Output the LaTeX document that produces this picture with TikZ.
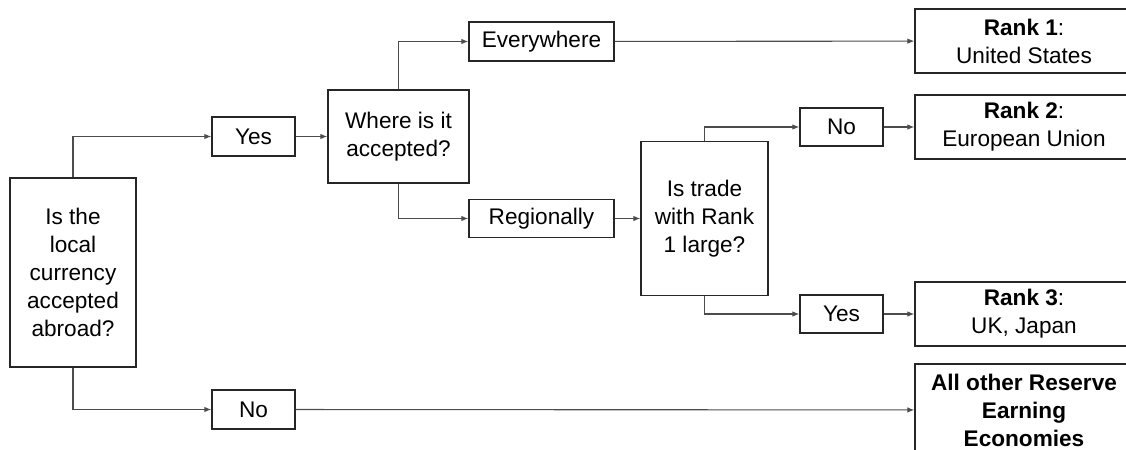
\documentclass[tikz,border=0pt]{standalone}
\usepackage{fontspec}
\setmainfont{Liberation Sans}
\usetikzlibrary{arrows.meta}

\begin{document}
\begin{tikzpicture}[x=0.5pt,y=-0.5pt,
  box/.style={draw=black!85,line width=0.7pt,fill=white,align=center,inner sep=0pt,
    font=\fontsize{11.3}{14}\selectfont},
  link/.style={draw=black!70,line width=0.55pt,-{Latex[length=3.5pt,width=2.8pt]}}]
\useasboundingbox (0,0) rectangle (1126,450);
\clip (0,0) rectangle (1126,450);

\node[box,minimum width=63pt,minimum height=94.5pt] (accepted) at (73,272.5)
  {Is the\\local\\currency\\accepted\\abroad?};
\node[box,minimum width=41.5pt,minimum height=19.5pt] (yes1) at (253.5,136.5) {Yes};
\node[box,minimum width=41.5pt,minimum height=19.5pt] (no1) at (253.5,409.5) {No};
\node[box,minimum width=70.5pt,minimum height=46.5pt] (where) at (398.5,136.5)
  {Where is it\\accepted?};
\node[box,minimum width=72.5pt,minimum height=19.5pt] (every) at (541.5,41.5) {Everywhere};
\node[box,minimum width=72.5pt,minimum height=19pt] (region) at (541.5,218.5) {Regionally};
\node[box,minimum width=63.5pt,minimum height=77pt] (trade) at (704.5,218.5)
  {Is trade\\with Rank\\1 large?};
\node[box,minimum width=41.5pt,minimum height=19pt] (no2) at (841.5,127) {No};
\node[box,minimum width=41.5pt,minimum height=19pt] (yes2) at (841.5,314) {Yes};

\node[box,minimum width=109pt,minimum height=32pt] (rank1) at (1024,41)
  {\textbf{Rank 1}:\\United States};
\node[box,minimum width=109pt,minimum height=32pt] (rank2) at (1024,127)
  {\textbf{Rank 2}:\\European Union};
\node[box,minimum width=109pt,minimum height=32pt] (rank3) at (1024,314)
  {\textbf{Rank 3}:\\UK, Japan};
\node[box,minimum width=109pt,minimum height=46pt,font=\fontsize{11.3}{14}\selectfont\bfseries]
  (others) at (1024,410) {All other Reserve\\Earning\\Economies};

\draw[link] (accepted.north) |- (yes1);
\draw[link] (accepted.south) |- (no1);
\draw[link] (yes1) -- (where);
\draw[link] (where.north) |- (every);
\draw[link] (where.south) |- (region);
\draw[link] (every) -- (rank1);
\draw[link] (region) -- (trade);
\draw[link] (trade.north) |- (no2);
\draw[link] (trade.south) |- (yes2);
\draw[link] (no2) -- (rank2);
\draw[link] (yes2) -- (rank3);
\draw[link] (no1) -- (others);
\end{tikzpicture}
\end{document}
